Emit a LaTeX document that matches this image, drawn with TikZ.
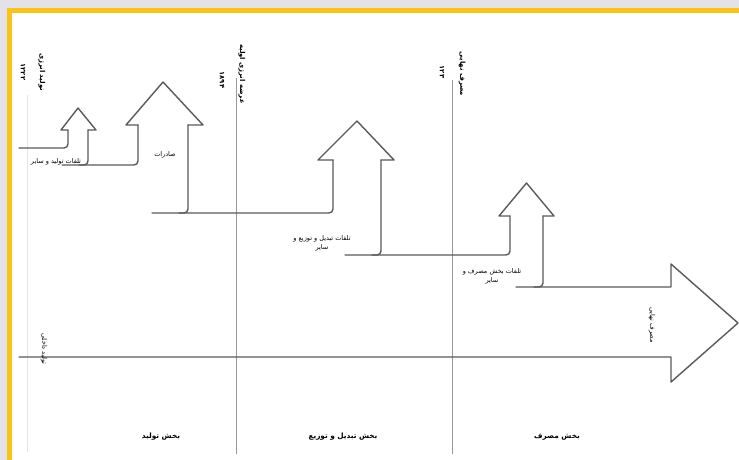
\documentclass[tikz,border=0pt]{standalone}
\usepackage{fontspec}
\newfontfamily\fa[Script=Arabic]{DejaVu Sans}
\TeXXeTstate=1
\newcommand\fatxt[1]{\beginR #1\endR}
\definecolor{pagegray}{RGB}{226,226,232}
\definecolor{frameyellow}{RGB}{250,196,22}
\definecolor{flowgray}{RGB}{90,90,90}
\begin{document}
\begin{tikzpicture}[x=1pt,y=-1pt,
  flow/.style={draw=flowgray,line width=1.4pt,line cap=round,line join=round},
  divider/.style={draw=gray!80,line width=.8pt},
  small/.style={font=\fa\fontsize{6.5}{9}\selectfont,align=center,inner sep=0pt},
  upright/.style={font=\fa\bfseries\fontsize{6.8}{8}\selectfont,rotate=-90,inner sep=0pt},
  sector/.style={font=\fa\bfseries\fontsize{7.3}{8}\selectfont,inner sep=0pt}]
 \useasboundingbox (0,0) rectangle (739,460);
 \fill[pagegray] (0,0) rectangle (739,460);
 \fill[frameyellow] (7,8) rectangle (739,460);
 \fill[white] (12,13) rectangle (739,460);
 \draw[gray!20,line width=.6pt] (27,95)--(27,452);
 \foreach \x/\t in {236/78,452/80}
    \draw[divider] (\x,\t)--(\x,454);
 \foreach \sx/\l/\r/\ls/\rs/\sy/\ty/\iy/\oy in {19/68/88/61/96/130/108/148/165,
    62/138/188/126/203/125/82/165/213,152/333/381/318/394/160/121/213/255,
    345/510/543/499/554/216/183/255/287}
 {
  \draw[flow,rounded corners=4pt] (\sx,\iy)--(\l,\iy)--(\l,\sy);
  \draw[flow] (\l,\sy)--(\ls,\sy)--({(\l+\r)/2},\ty)--(\rs,\sy)--(\r,\sy);
  \draw[flow,rounded corners=4pt] (\r,\sy)--(\r,\oy)--({\r-9},\oy);
 }
 \draw[flow] (516,287)--(671,287)--(671,264)--(738,323)--(671,382)--(671,357)--(19,357);
 \node[upright] (prodval) at (23,72) {۱۲۲۲};
 \node[upright] (prodtxt) at (42,72) {\fatxt{تولید انرژی}};
 \node[upright] (supplyval) at (222,80) {۱۸۹۴};
 \node[upright] (supplytxt) at (242,74) {\fatxt{عرضه انرژی اولیه}};
 \node[upright] (finalval) at (442,72) {۱۲۳};
 \node[upright] (finaltxt) at (462,74) {\fatxt{مصرف نهایی}};
 \node[small] (lossprod) at (56,162) {\fatxt{تلفات تولید و سایر}};
 \node[small] (export) at (165,155) {\fatxt{صادرات}};
 \node[small] (lossconv) at (322,243) {\fatxt{تلفات تبدیل و توزیع و}\\\fatxt{سایر}};
 \node[small] (lossuse) at (492,276) {\fatxt{تلفات بخش مصرف و}\\\fatxt{سایر}};
 \node[small,rotate=-90] (finaluse) at (652,325) {\fatxt{مصرف نهایی}};
 \node[small,rotate=-90] (source) at (44,349) {\fatxt{تولید داخلی}};
 \node[sector] (prodsec) at (161,437) {\fatxt{بخش تولید}};
 \node[sector] (convsec) at (343,437) {\fatxt{بخش تبدیل و توزیع}};
 \node[sector] (usesec) at (557,437) {\fatxt{بخش مصرف}};
\end{tikzpicture}
\end{document}
